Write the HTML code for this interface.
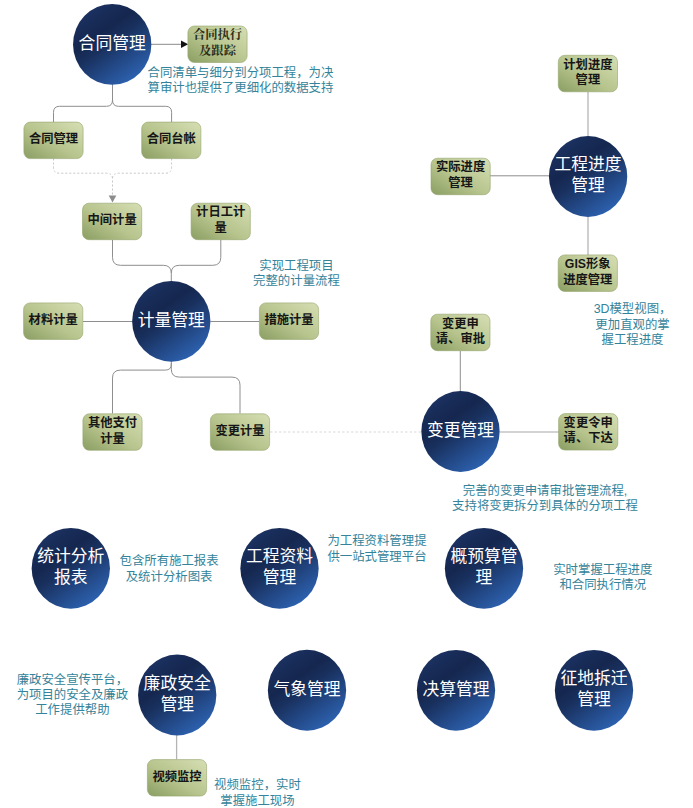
<!DOCTYPE html>
<html lang="zh-CN">
<head>
<meta charset="utf-8">
<title>系统功能模块图</title>
<style>
html,body{margin:0;padding:0;background:#fff;}
body{width:693px;height:808px;position:relative;overflow:hidden;font-family:"Liberation Sans","Noto Sans CJK SC",sans-serif;}
svg{position:absolute;left:0;top:0;display:block;filter:blur(0.35px);}
.t{position:absolute;margin:0;text-align:center;white-space:nowrap;color:#33839a;font-family:"Liberation Sans","Noto Sans CJK SC",sans-serif;}
.t.b{font-weight:bold;color:#161616;}
.t.s{font-family:"Liberation Serif","Noto Serif CJK SC",serif;color:#2a2e1c;}
.t.c{color:#ffffff;}
.t.d{color:#33839a;}
</style>
</head>
<body>
<svg width="693" height="808" viewBox="0 0 693 808">
<defs>
<linearGradient id="gc" x1="0.22" y1="0.09" x2="0.78" y2="0.91">
<stop offset="0" stop-color="#1b3160"/><stop offset="0.12" stop-color="#182c58"/><stop offset="0.3" stop-color="#15274f"/><stop offset="0.48" stop-color="#19315f"/><stop offset="0.72" stop-color="#224784"/><stop offset="1" stop-color="#2c60ad"/>
</linearGradient>
<linearGradient id="gb" x1="0.05" y1="0.95" x2="0.95" y2="0.05">
<stop offset="0" stop-color="#8fa267"/><stop offset="0.45" stop-color="#b7c48d"/><stop offset="1" stop-color="#d3dcb0"/>
</linearGradient>
</defs>
<path d="M151 44.3H182" stroke="#8a8a8a" fill="none"/>
<path d="M188.2 44.3L181 40.5V48.1Z" fill="#111"/>
<path d="M112.5 84V100Q112.5 106.3 106.5 106.3H59.5Q53.5 106.3 53.5 112.3V122 M112.5 100Q112.5 106.3 118.5 106.3H165.6Q171.6 106.3 171.6 112.3V122" stroke="#8e8e8e" fill="none"/>
<path d="M53.5 158.5V167.2Q53.5 173.2 59.5 173.2H106.5Q112.5 173.2 112.5 179.2V196 M171.6 158.5V167.2Q171.6 173.2 165.6 173.2H118.5Q112.5 173.2 112.5 179.2" stroke="#c6c6c6" stroke-dasharray="2 2" fill="none"/>
<path d="M108.7 195.5H116.3L112.5 202.5Z" fill="#8c8c8c"/>
<path d="M112.5 240V257.3Q112.5 265.3 120.5 265.3H163.3Q171.3 265.3 171.3 273.3V282 M220.8 240V257.3Q220.8 265.3 212.8 265.3H179.3Q171.3 265.3 171.3 273.3" stroke="#8e8e8e" fill="none"/>
<path d="M83 321.5H132.5 M210.5 321.5H259.5" stroke="#8e8e8e" fill="none"/>
<path d="M171.3 361V364.1Q171.3 370.1 165.3 370.1H120.5Q112.5 370.1 112.5 378.1V413.5 M171.3 363V369.1Q171.3 377.1 179.3 377.1H232Q240 377.1 240 385.1V413.5" stroke="#8e8e8e" fill="none"/>
<path d="M270 432H421" stroke="#d9d9d9" stroke-dasharray="2.5 2" fill="none"/>
<path d="M460.3 351V392" stroke="#8e8e8e" fill="none"/>
<path d="M500 432H559" stroke="#c4c4c4" stroke-width="1.6" fill="none"/>
<path d="M588 92V136.5 M588 216V255" stroke="#c4c4c4" stroke-width="1.6" fill="none"/>
<path d="M489.5 175.8H549" stroke="#8e8e8e" fill="none"/>
<path d="M176.6 734V759.5" stroke="#b4b4b4" stroke-width="1.3" fill="none"/>
<rect x="187.9" y="26.0" width="59.2" height="36.5" rx="6.5" fill="url(#gb)" stroke="#93a56b" stroke-width="0.6"/>
<rect x="23.9" y="122.1" width="59.2" height="36.5" rx="6.5" fill="url(#gb)" stroke="#93a56b" stroke-width="0.6"/>
<rect x="141.7" y="122.1" width="59.2" height="36.5" rx="6.5" fill="url(#gb)" stroke="#93a56b" stroke-width="0.6"/>
<rect x="82.5" y="203.2" width="59.2" height="36.5" rx="6.5" fill="url(#gb)" stroke="#93a56b" stroke-width="0.6"/>
<rect x="191.1" y="203.2" width="59.2" height="36.5" rx="6.5" fill="url(#gb)" stroke="#93a56b" stroke-width="0.6"/>
<rect x="23.6" y="302.9" width="59.2" height="36.5" rx="6.5" fill="url(#gb)" stroke="#93a56b" stroke-width="0.6"/>
<rect x="259.4" y="302.9" width="59.2" height="36.5" rx="6.5" fill="url(#gb)" stroke="#93a56b" stroke-width="0.6"/>
<rect x="82.9" y="413.8" width="59.2" height="36.5" rx="6.5" fill="url(#gb)" stroke="#93a56b" stroke-width="0.6"/>
<rect x="210.4" y="413.8" width="59.2" height="36.5" rx="6.5" fill="url(#gb)" stroke="#93a56b" stroke-width="0.6"/>
<rect x="558.3" y="55.3" width="59.2" height="36.5" rx="6.5" fill="url(#gb)" stroke="#93a56b" stroke-width="0.6"/>
<rect x="431.0" y="158.2" width="59.2" height="36.5" rx="6.5" fill="url(#gb)" stroke="#93a56b" stroke-width="0.6"/>
<rect x="558.2" y="254.9" width="59.2" height="36.5" rx="6.5" fill="url(#gb)" stroke="#93a56b" stroke-width="0.6"/>
<rect x="430.8" y="314.2" width="59.2" height="36.5" rx="6.5" fill="url(#gb)" stroke="#93a56b" stroke-width="0.6"/>
<rect x="558.6" y="413.6" width="59.2" height="36.5" rx="6.5" fill="url(#gb)" stroke="#93a56b" stroke-width="0.6"/>
<rect x="147.4" y="759.6" width="59.2" height="36.5" rx="6.5" fill="url(#gb)" stroke="#93a56b" stroke-width="0.6"/>
<ellipse cx="112.2" cy="44.4" rx="39.15" ry="40.4" fill="url(#gc)"/>
<ellipse cx="171.3" cy="321.3" rx="39.15" ry="40.4" fill="url(#gc)"/>
<ellipse cx="588.1" cy="176.5" rx="39.15" ry="40.4" fill="url(#gc)"/>
<ellipse cx="460.5" cy="431.5" rx="39.15" ry="40.4" fill="url(#gc)"/>
<ellipse cx="70.8" cy="568.3" rx="39.15" ry="40.4" fill="url(#gc)"/>
<ellipse cx="279.5" cy="568.3" rx="39.15" ry="40.4" fill="url(#gc)"/>
<ellipse cx="484.0" cy="568.3" rx="39.15" ry="40.4" fill="url(#gc)"/>
<ellipse cx="177.2" cy="695.0" rx="39.15" ry="40.4" fill="url(#gc)"/>
<ellipse cx="307.0" cy="690.25" rx="39.15" ry="40.4" fill="url(#gc)"/>
<ellipse cx="456.0" cy="690.3" rx="39.15" ry="40.4" fill="url(#gc)"/>
<ellipse cx="594.0" cy="690.3" rx="39.15" ry="40.4" fill="url(#gc)"/>
</svg>
<div class="t b s" style="left:188.9px;top:28.2px;width:57.2px;font-size:12.3px;line-height:15.6px">合同执行<br>及跟踪</div>
<div class="t b" style="left:24.9px;top:132.1px;width:57.2px;font-size:12.3px;line-height:15.6px">合同管理</div>
<div class="t b" style="left:142.7px;top:132.1px;width:57.2px;font-size:12.3px;line-height:15.6px">合同台帐</div>
<div class="t b" style="left:83.5px;top:213.2px;width:57.2px;font-size:12.3px;line-height:15.6px">中间计量</div>
<div class="t b" style="left:192.1px;top:205.4px;width:57.2px;font-size:12.3px;line-height:15.6px">计日工计<br>量</div>
<div class="t b" style="left:24.6px;top:313.0px;width:57.2px;font-size:12.3px;line-height:15.6px">材料计量</div>
<div class="t b" style="left:260.4px;top:313.0px;width:57.2px;font-size:12.3px;line-height:15.6px">措施计量</div>
<div class="t b" style="left:83.9px;top:416.0px;width:57.2px;font-size:12.3px;line-height:15.6px">其他支付<br>计量</div>
<div class="t b" style="left:211.4px;top:423.8px;width:57.2px;font-size:12.3px;line-height:15.6px">变更计量</div>
<div class="t b" style="left:559.3px;top:57.6px;width:57.2px;font-size:12.3px;line-height:15.6px">计划进度<br>管理</div>
<div class="t b" style="left:432.0px;top:160.4px;width:57.2px;font-size:12.3px;line-height:15.6px">实际进度<br>管理</div>
<div class="t b" style="left:553.0px;top:257.2px;width:69.5px;font-size:12.3px;line-height:15.6px">GIS形象<br>进度管理</div>
<div class="t b" style="left:431.8px;top:316.5px;width:57.2px;font-size:12.3px;line-height:15.6px">变更申<br>请、审批</div>
<div class="t b" style="left:559.6px;top:415.8px;width:57.2px;font-size:12.3px;line-height:15.6px">变更令申<br>请、下达</div>
<div class="t b" style="left:148.4px;top:769.7px;width:57.2px;font-size:12.3px;line-height:15.6px">视频监控</div>
<div class="t c" style="left:74.7px;top:33.6px;width:75.0px;font-size:16.8px;line-height:20.8px">合同管理</div>
<div class="t c" style="left:133.8px;top:310.5px;width:75.0px;font-size:16.8px;line-height:20.8px">计量管理</div>
<div class="t c" style="left:550.6px;top:155.3px;width:75.0px;font-size:16.8px;line-height:20.8px">工程进度<br>管理</div>
<div class="t c" style="left:423.0px;top:420.7px;width:75.0px;font-size:16.8px;line-height:20.8px">变更管理</div>
<div class="t c" style="left:33.3px;top:547.1px;width:75.0px;font-size:16.8px;line-height:20.8px">统计分析<br>报表</div>
<div class="t c" style="left:242.0px;top:547.1px;width:75.0px;font-size:16.8px;line-height:20.8px">工程资料<br>管理</div>
<div class="t c" style="left:446.5px;top:547.1px;width:75.0px;font-size:16.8px;line-height:20.8px">概预算管<br>理</div>
<div class="t c" style="left:139.7px;top:673.8px;width:75.0px;font-size:16.8px;line-height:20.8px">廉政安全<br>管理</div>
<div class="t c" style="left:269.5px;top:679.5px;width:75.0px;font-size:16.8px;line-height:20.8px">气象管理</div>
<div class="t c" style="left:418.5px;top:679.5px;width:75.0px;font-size:16.8px;line-height:20.8px">决算管理</div>
<div class="t c" style="left:556.5px;top:669.1px;width:75.0px;font-size:16.8px;line-height:20.8px">征地拆迁<br>管理</div>
<div class="t d" style="left:143.3px;top:65.8px;width:194.3px;font-size:12.4px;line-height:15.4px">合同清单与细分到分项工程，为决<br>算审计也提供了更细化的数据支持</div>
<div class="t d" style="left:249.0px;top:258.6px;width:94.9px;font-size:12.4px;line-height:15.4px">实现工程项目<br>完整的计量流程</div>
<div class="t d" style="left:585.1px;top:302.4px;width:94.9px;font-size:12.4px;line-height:15.4px">3D模型视图，<br>更加直观的掌<br>握工程进度</div>
<div class="t d" style="left:447.9px;top:483.7px;width:194.3px;font-size:12.4px;line-height:15.4px">完善的变更申请审批管理流程,<br>支持将变更拆分到具体的分项工程</div>
<div class="t d" style="left:115.4px;top:554.2px;width:107.4px;font-size:12.4px;line-height:15.4px">包含所有施工报表<br>及统计分析图表</div>
<div class="t d" style="left:323.3px;top:534.4px;width:107.4px;font-size:12.4px;line-height:15.4px">为工程资料管理提<br>供一站式管理平台</div>
<div class="t d" style="left:549.1px;top:562.8px;width:107.4px;font-size:12.4px;line-height:15.4px">实时掌握工程进度<br>和合同执行情况</div>
<div class="t d" style="left:12.5px;top:672.6px;width:119.8px;font-size:12.4px;line-height:15.4px">廉政安全宣传平台，<br>为项目的安全及廉政<br>工作提供帮助</div>
<div class="t d" style="left:210.0px;top:778.1px;width:94.9px;font-size:12.4px;line-height:15.4px">视频监控，实时<br>掌握施工现场</div>
</body>
</html>
